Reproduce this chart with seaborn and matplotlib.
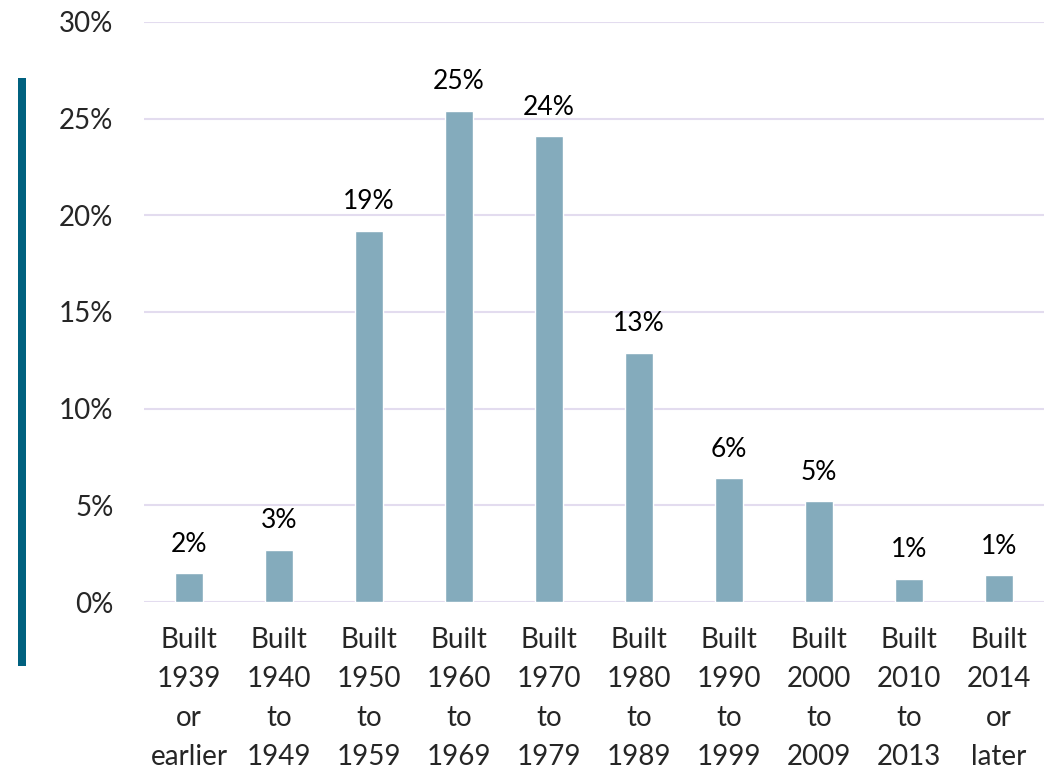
import matplotlib
matplotlib.use("Agg")
import matplotlib.pyplot as plt
import seaborn as sns
import pandas as pd
from matplotlib.patches import Rectangle

# Year built categories and share of units (%)
categories = ["Built\n1939\nor\nearlier", "Built\n1940\nto\n1949", "Built\n1950\nto\n1959",
              "Built\n1960\nto\n1969", "Built\n1970\nto\n1979", "Built\n1980\nto\n1989",
              "Built\n1990\nto\n1999", "Built\n2000\nto\n2009", "Built\n2010\nto\n2013",
              "Built\n2014\nor\nlater"]
shares = [1.5, 2.7, 19.2, 25.4, 24.1, 12.9, 6.4, 5.2, 1.2, 1.4]
y_ticks = [0, 5, 10, 15, 20, 25, 30]

df = pd.DataFrame({"Year": categories, "Share": shares})

sns.set_style("white")
plt.rcParams["font.family"] = ["Lato", "DejaVu Sans"]

fig = plt.figure(figsize=(10.46, 7.74), dpi=100)
ax = fig.add_axes([0.1377, 0.2222, 0.8604, 0.7494])

sns.barplot(data=df, x="Year", y="Share", color="#84abbc", saturation=1,
            width=0.31, ax=ax, zorder=3)

# value labels
for i, v in enumerate(shares):
    ax.text(i, v + 0.85, f"{v:.0f}%", ha="center", va="bottom", fontsize=19, color="black")

ax.set_ylim(0, 30)
ax.set_xlim(-0.5, 9.5)
ax.set_yticks(y_ticks)
ax.set_yticklabels([f"{t}%" for t in y_ticks])
ax.yaxis.grid(True, color="#e3dcef", linewidth=1.5, zorder=0)
ax.set_axisbelow(True)
for s in ax.spines.values():
    s.set_visible(False)
ax.tick_params(axis="y", length=0, pad=22, labelsize=20)
ax.tick_params(axis="x", length=0, pad=18, labelsize=20)
for lbl in ax.get_xticklabels():
    lbl.set_linespacing(1.62)
ax.set_xlabel("")
ax.set_ylabel("")

# teal accent bar on the left edge
fig.add_artist(Rectangle((18 / 1046, 1 - 666 / 774), 8 / 1046, 588 / 774,
                         transform=fig.transFigure, color="#00617f", linewidth=0))

fig.savefig("out.png", dpi=100)
